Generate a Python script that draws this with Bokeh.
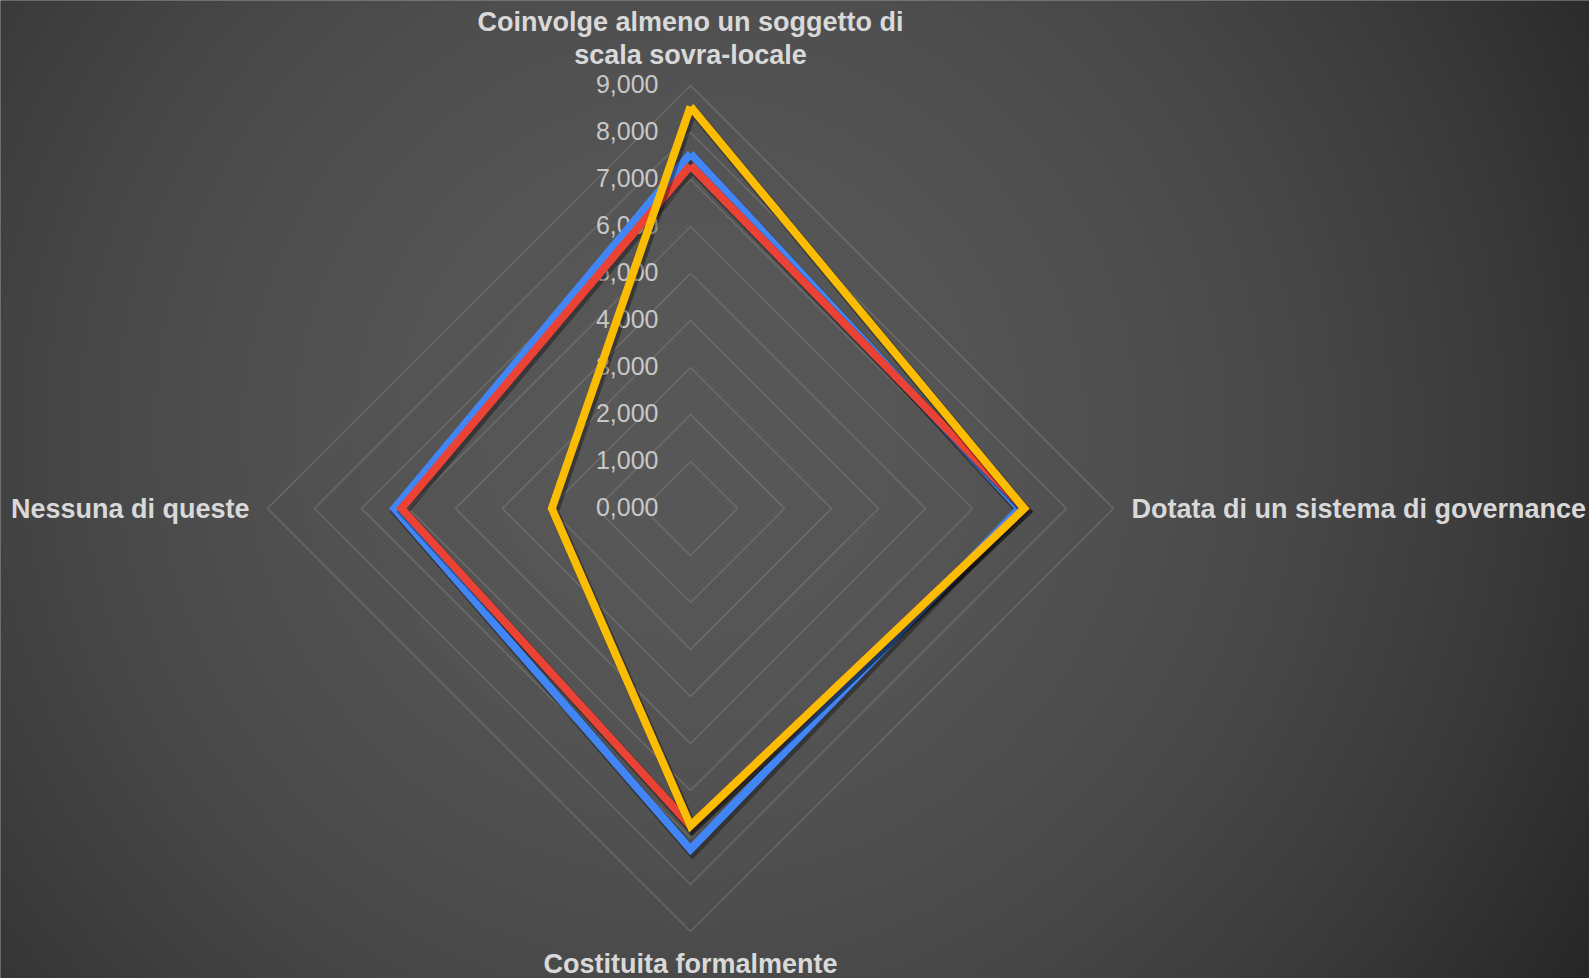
import numpy as np
from bokeh.plotting import figure
from bokeh.models import Range1d
from bokeh.embed import file_html
from bokeh.resources import INLINE
from bokeh.core.properties import value

# ---------------- data ----------------
categories = [
    "Coinvolge almeno un soggetto di\nscala sovra-locale",
    "Dotata di un sistema di governance",
    "Costituita formalmente",
    "Nessuna di queste",
]
series_names = ["Serie 1", "Serie 2", "Serie 3"]
series_blue = [7550, 7000, 7250, 6300]
series_red = [7300, 7100, 6750, 6150]
series_yellow = [8550, 7100, 6750, 2950]
tick_values = [0, 1000, 2000, 3000, 4000, 5000, 6000, 7000, 8000, 9000]
tick_labels = ["0,000", "1,000", "2,000", "3,000", "4,000", "5,000",
               "6,000", "7,000", "8,000", "9,000"]

# ---------------- layout ----------------
W, H = 1589, 978
CX, CY = 690, 508          # centre in pixels (from top-left)
PX_PER_1000 = 47.0
U = 1000.0 / PX_PER_1000   # data units per pixel

angles = np.deg2rad([90, 0, -90, 180])   # clockwise from top

p = figure(width=W, height=H,
           x_range=Range1d(-CX * U, (W - CX) * U),
           y_range=Range1d(-(H - CY) * U, CY * U),
           output_backend="svg", toolbar_location=None,
           min_border=0, min_border_left=0, min_border_right=0,
           min_border_top=0, min_border_bottom=0)
p.axis.visible = False
p.grid.visible = False
p.outline_line_color = None
p.background_fill_color = "#3a3a3a"
p.border_fill_color = "#3a3a3a"

# ---------------- background gradient ----------------
pad = 10
gw, gh = 805, 499
GW, GH = W + 2 * pad, H + 2 * pad
jj, ii = np.meshgrid(np.arange(gw), np.arange(gh))
px_x = (jj + 0.5) * GW / gw - pad
px_y = H + pad - (ii + 0.5) * GH / gh
d = np.sqrt((px_x - 690) ** 2 + (px_y - 430) ** 2)
c = np.clip(88 - 50 * (d / 1053.0) ** 2, 36, 90).astype(np.uint8)
img = np.empty((gh, gw), dtype=np.uint32)
view = img.view(dtype=np.uint8).reshape((gh, gw, 4))
view[:, :, 0] = c
view[:, :, 1] = c
view[:, :, 2] = c
view[:, :, 3] = 255
p.image_rgba(image=[img], x=-(CX + pad) * U, y=-(H - CY + pad) * U,
             dw=GW * U, dh=GH * U)

# ---------------- grid rings ----------------
ring_xs, ring_ys = [], []
for t in tick_values[1:]:
    xs = list(t * np.cos(angles)) + [t * np.cos(angles[0])]
    ys = list(t * np.sin(angles)) + [t * np.sin(angles[0])]
    ring_xs.append(xs)
    ring_ys.append(ys)
p.multi_line(ring_xs, ring_ys, line_color="#8a8a8a", line_alpha=0.45, line_width=1.4)

# ---------------- tick labels ----------------
p.text(x=[-32 * U] * len(tick_values), y=[t + 1.5 * U for t in tick_values],
       text=tick_labels,
       text_align="right", text_baseline="middle",
       text_font=value("Liberation Sans"), text_font_size="25px",
       text_color="#c8c8c8")

# ---------------- series ----------------
colors = ["#4285F4", "#EA4335", "#FBBC04"]
for vals, col in zip([series_blue, series_red, series_yellow], colors):
    v = np.array(vals + vals[:1], dtype=float)
    a = np.concatenate([angles, angles[:1]])
    xs = v * np.cos(a)
    ys = v * np.sin(a)
    p.line(xs + 2 * U, ys - 3 * U, line_color="black", line_alpha=0.35,
           line_width=10, line_join="miter")
    p.line(xs, ys, line_color=col, line_width=8, line_join="miter")

# ---------------- category labels ----------------
lab_font = value("Liberation Sans")
fs = "27px"
p.text(x=[0], y=[470 * U], text=[categories[0]], text_align="center",
       text_baseline="middle", text_font=lab_font, text_font_size=fs,
       text_font_style="bold", text_color="#d9d9d9", text_line_height=1.1)
p.text(x=[441 * U], y=[0], text=[categories[1]], text_align="left",
       text_baseline="middle", text_font=lab_font, text_font_size=fs,
       text_font_style="bold", text_color="#d9d9d9")
p.text(x=[0], y=[-455 * U], text=[categories[2]], text_align="center",
       text_baseline="middle", text_font=lab_font, text_font_size=fs,
       text_font_style="bold", text_color="#d9d9d9")
p.text(x=[-441 * U], y=[0], text=[categories[3]], text_align="right",
       text_baseline="middle", text_font=lab_font, text_font_size=fs,
       text_font_style="bold", text_color="#d9d9d9")

html = file_html(p, INLINE)
html = html.replace("<body>", '<body style="margin:0;background:#3a3a3a;">', 1)
open("out.html", "w").write(html)
